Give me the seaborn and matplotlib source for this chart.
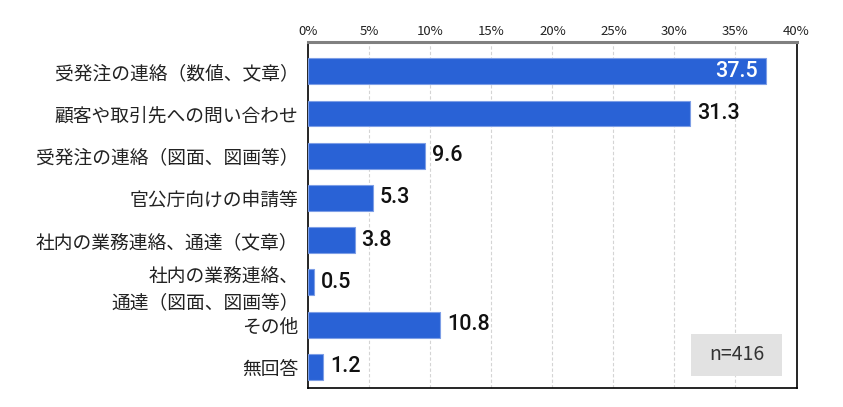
import matplotlib
matplotlib.use("Agg")
import matplotlib.pyplot as plt
from matplotlib.patches import Rectangle
from matplotlib.transforms import ScaledTranslation
import seaborn as sns
import pandas as pd

categories = [
    "受発注の連絡（数値、文章）",
    "顧客や取引先への問い合わせ",
    "受発注の連絡（図面、図画等）",
    "官公庁向けの申請等",
    "社内の業務連絡、通達（文章）",
    "社内の業務連絡、\n通達（図面、図画等）",
    "その他",
    "無回答",
]
values = [37.5, 31.3, 9.6, 5.3, 3.8, 0.5, 10.8, 1.2]
xticks = [0, 5, 10, 15, 20, 25, 30, 35, 40]
xtick_labels = [f"{t}%" for t in xticks]
note = "n=416"

sns.set_theme(style="white")
plt.rcParams['font.family'] = ['Noto Sans CJK JP', 'DejaVu Sans']

fig = plt.figure(figsize=(8.43, 4.07), dpi=100)
ax = fig.add_axes([308.3 / 843, 1 - 388 / 407, (796.5 - 308.3) / 843, (388 - 42) / 407])

df = pd.DataFrame({"cat": categories, "val": values})
sns.barplot(data=df, x="val", y="cat", orient="h", color="#2962d6", saturation=1,
            width=0.61, edgecolor="#7d9ee6", linewidth=0.8, ax=ax, zorder=3)

ax.set_xlim(0, 40)
ax.set_ylim(7.5, -0.69)
ax.set_xticks(xticks)
ax.set_xticklabels(xtick_labels, fontsize=9.5, color="#222222")
ax.xaxis.tick_top()
ax.tick_params(axis="x", length=0, pad=3)
ax.tick_params(axis="y", length=0, pad=7)
for lbl in ax.get_yticklabels():
    lbl.set_fontsize(13.5)
    lbl.set_color("#222222")
    if "\n" in lbl.get_text():
        lbl.set_linespacing(1.25)
        lbl.set_transform(lbl.get_transform() +
                          ScaledTranslation(0, -3 / 100, fig.dpi_scale_trans))
ax.set_xlabel("")
ax.set_ylabel("")

for t in xticks[1:-1]:
    ax.axvline(t, color="#d4d4d4", linestyle=(0, (3, 2)), linewidth=0.8, zorder=1)

for sp in ["left", "right", "bottom"]:
    ax.spines[sp].set_color("#000000")
    ax.spines[sp].set_linewidth(1.2)
ax.spines["top"].set_color("#808080")
ax.spines["top"].set_linewidth(2.2)

for i, p in enumerate(ax.patches):
    w = p.get_width()
    yc = p.get_y() + p.get_height() / 2
    if w > 35:
        ax.annotate(f"{values[i]:.1f}", (w, yc), xytext=(-6, 0), textcoords="offset points",
                    ha="right", va="center", color="white", fontsize=15.5,
                    family="Roboto", fontweight="medium", zorder=5)
    else:
        ax.annotate(f"{values[i]:.1f}", (w, yc), xytext=(5, 0), textcoords="offset points",
                    ha="left", va="center", color="#111111", fontsize=15.5,
                    family="Roboto", fontweight="medium", zorder=5)

fig.patches.append(Rectangle((691 / 843, 1 - 376 / 407), 91 / 843, 42 / 407,
                             transform=fig.transFigure, facecolor="#e2e2e2",
                             edgecolor="none", zorder=4))
fig.text(736.5 / 843, 1 - 355 / 407, note, ha="center", va="center", fontsize=14,
         color="#333333", zorder=5)

fig.savefig("out.png", dpi=100)
